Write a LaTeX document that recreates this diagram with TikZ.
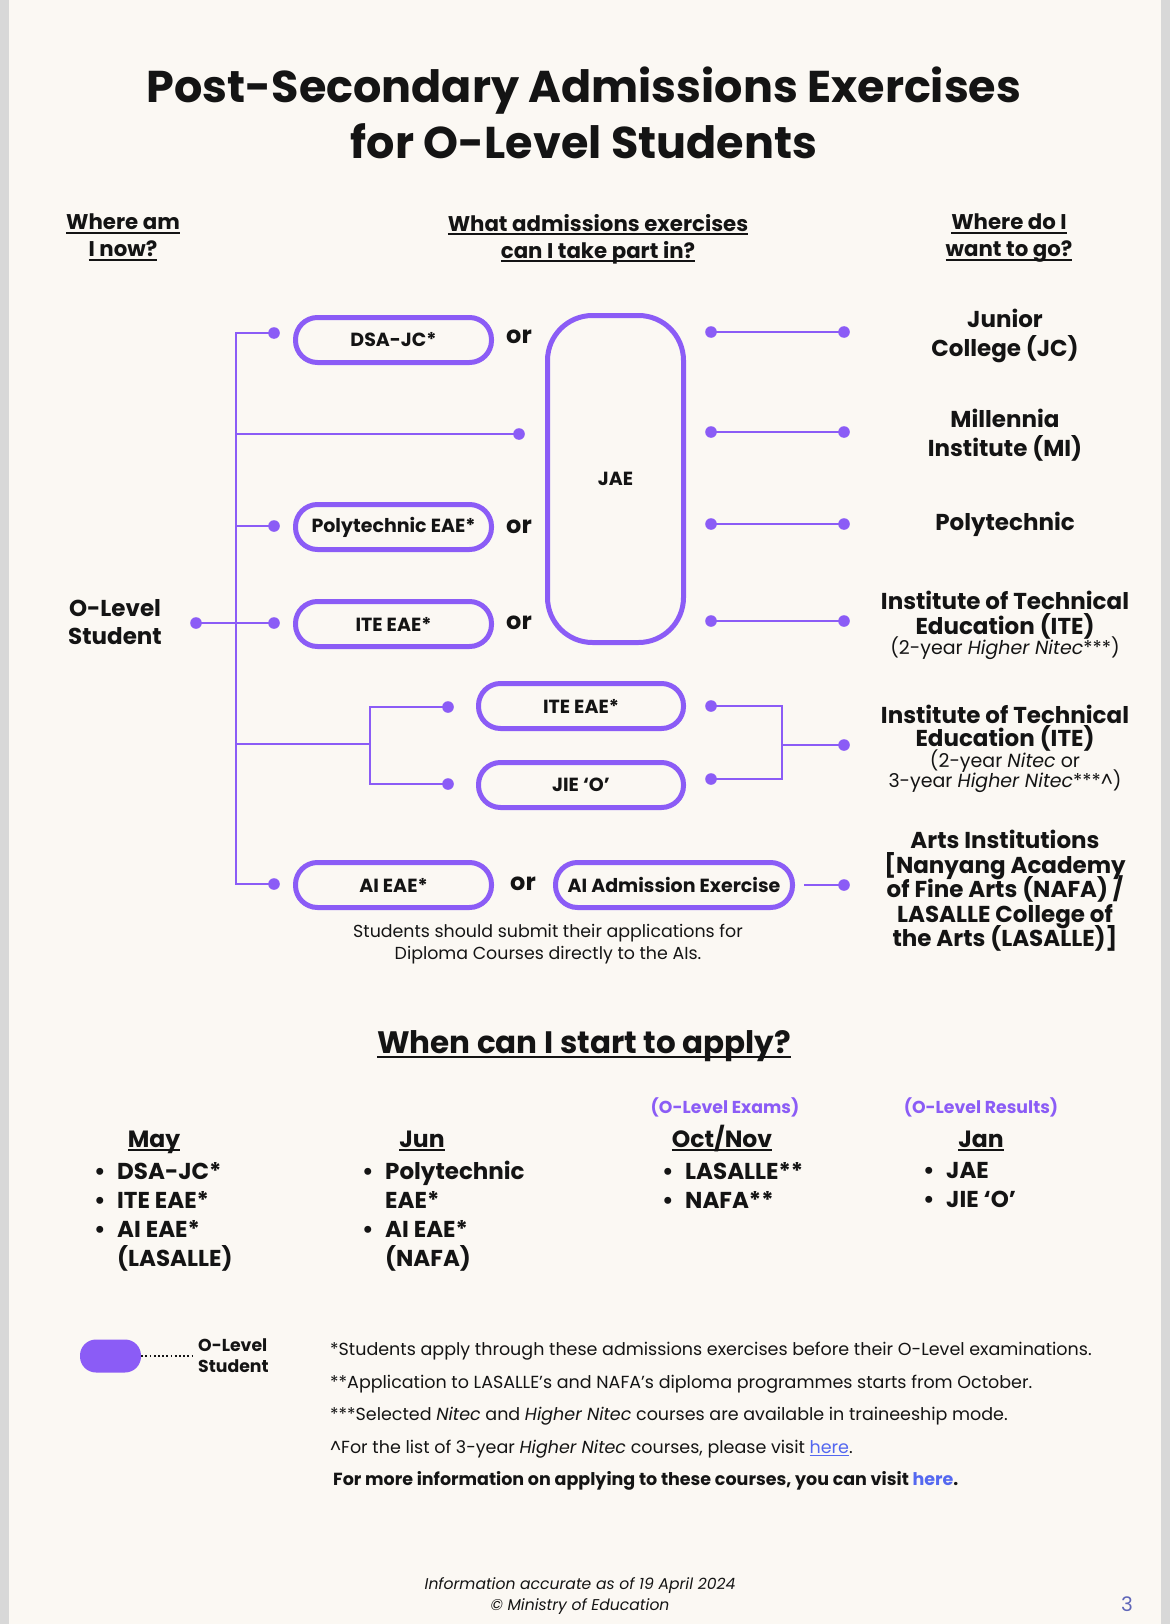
\documentclass[tikz,border=0pt]{standalone}
\usepackage{fontspec}
\setmainfont{Poppins}
\definecolor{moePurple}{HTML}{8B5CF6}
\definecolor{pageCream}{HTML}{FBF8F3}
\definecolor{edgeGrey}{HTML}{D8D8D8}
\definecolor{inkDark}{HTML}{141414}
\definecolor{linkBlue}{HTML}{5468F0}
\definecolor{pageNum}{HTML}{5F66B8}
\lineskiplimit=-30pt
\newcommand{\undl}[1]{\leavevmode\setbox0=\hbox{#1}\rlap{\rule[-0.17em]{\wd0}{0.08em}}\box0}
\newcommand{\bitem}[1]{\makebox[23pt][l]{\textbullet}#1}
\newcommand{\bcont}[1]{\makebox[23pt][l]{}#1}
\newcommand{\subfont}{\mdseries\fontsize{19}{22}\selectfont}
\tikzset{
  ttl/.style={font=\bfseries\fontsize{44.5}{56}\selectfont},
  hdr/.style={font=\bfseries\fontsize{21.3}{27}\selectfont},
  dest/.style={font=\bfseries\fontsize{23}{25}\selectfont},
  month/.style={font=\bfseries\fontsize{23.5}{26}\selectfont, anchor=base, inner sep=0pt},
  bullets/.style={font=\bfseries\fontsize{23}{29}\selectfont, align=left, anchor=north west, inner sep=0pt},
}

\begin{document}
\begin{tikzpicture}[x=1pt, y=-1pt,
  pill/.style={draw=moePurple, line width=5pt, rounded corners=22pt, minimum width=196pt,
               minimum height=45pt, inner sep=0pt, text=inkDark, font=\bfseries\fontsize{19}{22}\selectfont},
  wire/.style={draw=moePurple, line width=2.6pt},
  orlbl/.style={font=\bfseries\fontsize{24}{28}\selectfont, text=inkDark},
  txt/.style={inner sep=0pt, text=inkDark, align=center}]
  \useasboundingbox (0,0) rectangle (1170,1624);
  \fill[edgeGrey] (0,0) rectangle (1170,1624);
  \fill[pageCream] (9,0) rectangle (1161,1624);

  % title and column heads
  \node[ttl, txt, anchor=north] (title) at (584,67) {Post-Secondary Admissions Exercises\\for O-Level Students};
  \node[hdr, txt, anchor=north] (hereNow) at (123,214) {\undl{Where am}\\\undl{I now?}};
  \node[hdr, txt, anchor=north] (whatEx) at (598,214) {\undl{What admissions exercises}\\\undl{can I take part in?}};
  \node[hdr, txt, anchor=north] (goTo) at (1009,214) {\undl{Where do I}\\\undl{want to go?}};

  % admissions exercises
  \node[txt, anchor=north, font=\bfseries\fontsize{23}{28}\selectfont] (olevel) at (115,599) {O-Level\\Student};
  \node[pill] (dsa) at (393.5,340) {DSA-JC*};
  \node[pill] (poly) at (393.5,527) {Polytechnic EAE*};
  \node[pill] (ite) at (393.5,624) {ITE EAE*};
  \node[pill, minimum width=205pt] (iteTwo) at (581,706) {ITE EAE*};
  \node[pill, minimum width=205pt] (jie) at (581,785) {JIE ‘O’};
  \node[pill] (aiEae) at (393.5,885) {AI EAE*};
  \node[pill, minimum width=237pt] (aiAdm) at (674,885) {AI Admission Exercise};
  \node[pill, minimum width=136pt, minimum height=327pt, rounded corners=45pt] (jae) at (615.5,479) {JAE};
  \node[orlbl] (orDsa) at (519,337) {or};
  \node[orlbl] (orPoly) at (519,527) {or};
  \node[orlbl] (orIte) at (519,623) {or};
  \node[orlbl] (orAi) at (523,884) {or};
  \node[txt, font=\fontsize{17.4}{22}\selectfont, anchor=north] (aiNote) at (548,924)
    {Students should submit their applications for\\Diploma Courses directly to the AIs.};

  % where to go
  \node[dest, txt, anchor=north, font=\bfseries\fontsize{23}{29}\selectfont] (jcDst) at (1005,309) {Junior\\College (JC)};
  \node[dest, txt, anchor=north, font=\bfseries\fontsize{23}{29}\selectfont] (miDst) at (1005,409) {Millennia\\Institute (MI)};
  \node[dest, txt, anchor=base] (polyDst) at (1005,530) {Polytechnic};
  \node[dest, txt, anchor=north] (iteDst) at (1005,591)
    {Institute of Technical\\Education (ITE)\\[-5pt]{\subfont (2-year \textit{Higher Nitec}***)}};
  \node[dest, txt, anchor=north, font=\bfseries\fontsize{23}{23}\selectfont] (iteTwoDst) at (1005,705)
    {Institute of Technical\\Education (ITE)\\[-2pt]{\subfont (2-year \textit{Nitec} or}\\[-3pt]{\subfont 3-year \textit{Higher Nitec}***\textasciicircum)}};
  \node[dest, txt, anchor=north, font=\bfseries\fontsize{23}{24.5}\selectfont] (artsDst) at (1005,830)
    {Arts Institutions\\{[}Nanyang Academy\\of Fine Arts (NAFA) /\\LASALLE College of\\the Arts (LASALLE){]}};

  % wires
  \coordinate (start) at (196,623);
  \coordinate (iteIn) at (274,623);
  \coordinate (dsaIn) at (274,333);
  \coordinate (polyIn) at (274,526);
  \coordinate (aiIn) at (274,884);
  \coordinate (jaeIn) at (519,434);
  \coordinate (brkMi) at (236,434);
  \coordinate (brkPoly) at (236,526);
  \coordinate (brkSplit) at (236,744);
  \coordinate (splitMid) at (370,744);
  \coordinate (iteTwoIn) at (448,707);
  \coordinate (jieIn) at (448,784);
  \coordinate (jcOut) at (711,332);   \coordinate (jcEnd) at (844,332);
  \coordinate (miOut) at (711,432);   \coordinate (miEnd) at (844,432);
  \coordinate (polyOut) at (711,524); \coordinate (polyEnd) at (844,524);
  \coordinate (iteOut) at (711,621);  \coordinate (iteEnd) at (844,621);
  \coordinate (iteTwoOut) at (711,706);
  \coordinate (jieOut) at (711,779);
  \coordinate (mergeMid) at (782,745);
  \coordinate (iteTwoEnd) at (844,745);
  \coordinate (aiEnd) at (844,885);

  \draw[wire] (start) -- (iteIn);
  \draw[wire] (dsaIn) -| (brkSplit) |- (aiIn);
  \draw[wire] (brkMi) -- (jaeIn);
  \draw[wire] (brkPoly) -- (polyIn);
  \draw[wire] (brkSplit) -- (splitMid);
  \draw[wire] (iteTwoIn) -| (splitMid) |- (jieIn);
  \draw[wire] (jcOut) -- (jcEnd);
  \draw[wire] (miOut) -- (miEnd);
  \draw[wire] (polyOut) -- (polyEnd);
  \draw[wire] (iteOut) -- (iteEnd);
  \draw[wire] (iteTwoOut) -| (mergeMid) |- (jieOut);
  \draw[wire] (mergeMid) -- (iteTwoEnd);
  \draw[wire] ([xshift=9pt]aiAdm.east) -- (aiEnd);
  \foreach \c in {start, iteIn, dsaIn, polyIn, aiIn, jaeIn, iteTwoIn, jieIn, jcOut, jcEnd, miOut, miEnd,
                  polyOut, polyEnd, iteOut, iteEnd, iteTwoOut, jieOut, iteTwoEnd, aiEnd}
    \fill[moePurple] (\c) circle (5.8pt);

  % when to apply
  \node[txt, anchor=base, font=\bfseries\fontsize{31}{36}\selectfont] (whenHdr) at (584,1053) {\undl{When can I start to apply?}};
  \node[anchor=base, inner sep=0pt, text=moePurple, font=\bfseries\fontsize{17.3}{20}\selectfont] (examTag) at (725,1113) {(O-Level Exams)};
  \node[anchor=base, inner sep=0pt, text=moePurple, font=\bfseries\fontsize{17.3}{20}\selectfont] (resultTag) at (981,1113) {(O-Level Results)};
  \node[month, text=inkDark] (may) at (154,1147) {\undl{May}};
  \node[month, text=inkDark] (jun) at (422,1147) {\undl{Jun}};
  \node[month, text=inkDark] (octNov) at (722,1147) {\undl{Oct/Nov}};
  \node[month, text=inkDark] (jan) at (981,1147) {\undl{Jan}};
  \node[bullets, text=inkDark] (mayList) at (94,1162) {\bitem{DSA-JC*}\\\bitem{ITE EAE*}\\\bitem{AI EAE*}\\\bcont{(LASALLE)}};
  \node[bullets, text=inkDark] (junList) at (362,1161) {\bitem{Polytechnic}\\\bcont{EAE*}\\\bitem{AI EAE*}\\\bcont{(NAFA)}};
  \node[bullets, text=inkDark] (octList) at (662,1162) {\bitem{LASALLE**}\\\bitem{NAFA**}};
  \node[bullets, text=inkDark] (janList) at (923,1162) {\bitem{JAE}\\\bitem{JIE ‘O’}};

  % legend and notes
  \node[fill=moePurple, rounded corners=16pt, minimum width=61pt, minimum height=33pt, inner sep=0pt] (legendBlob) at (110.5,1356) {};
  \node[txt, align=left, anchor=west, font=\bfseries\fontsize{17.3}{21}\selectfont] (legendLbl) at (198,1356) {O-Level\\Student};
  \draw[inkDark, line width=2.6pt, dash pattern=on 1.8pt off 2.4pt] (legendBlob.east) -- ([xshift=-6pt]legendLbl.west);
  \node[txt, align=left, anchor=north west, font=\fontsize{17.5}{32.5}\selectfont] (notes) at (330,1342)
    {*Students apply through these admissions exercises before their O-Level examinations.\\
     **Application to LASALLE's and NAFA’s diploma programmes starts from October.\\
     ***Selected \textit{Nitec} and \textit{Higher Nitec} courses are available in traineeship mode.\\
     \textasciicircum For the list of 3-year \textit{Higher Nitec} courses, please visit \textcolor{linkBlue}{\undl{here}}.\\
     \hspace{3pt}\textbf{For more information on applying to these courses, you can visit \textcolor{linkBlue}{here}.}};
  \node[txt, anchor=north, font=\itshape\fontsize{15.6}{21}\selectfont] (footer) at (580,1577)
    {Information accurate as of 19 April 2024\\© Ministry of Education};
  \node[text=pageNum, inner sep=0pt, font=\fontsize{20}{24}\selectfont] (pgNum) at (1127,1604) {3};
\end{tikzpicture}
\end{document}
